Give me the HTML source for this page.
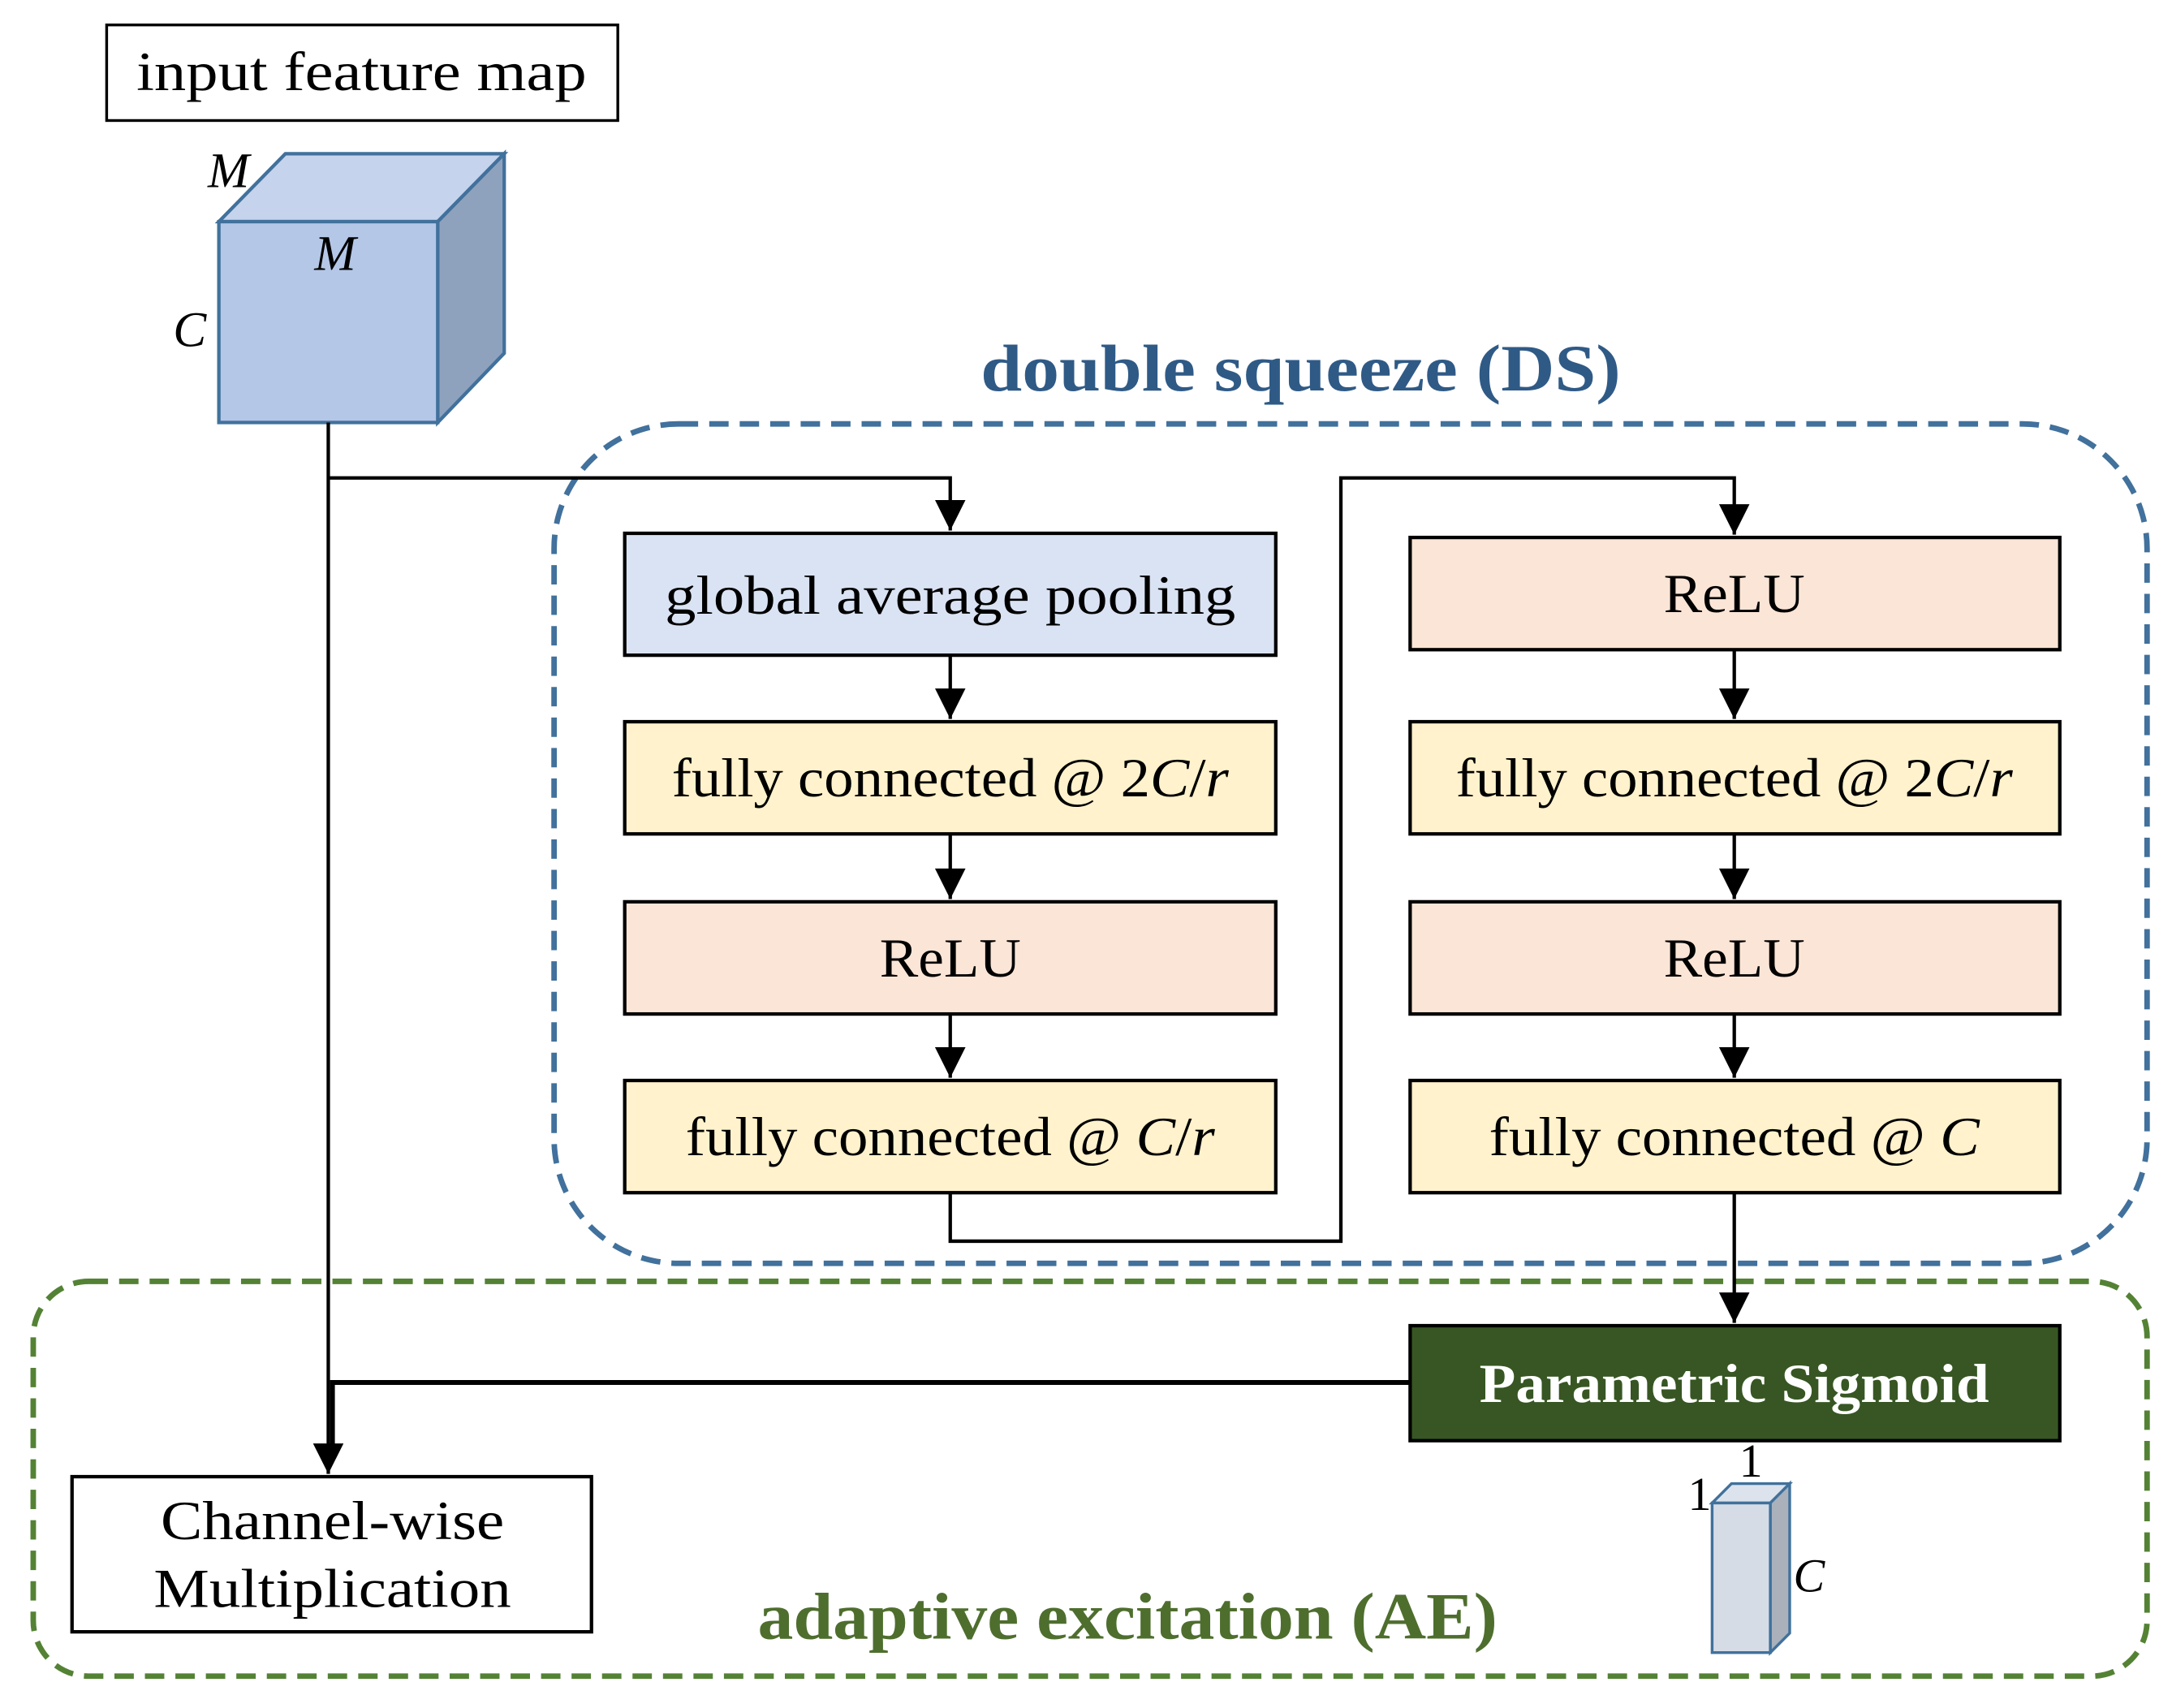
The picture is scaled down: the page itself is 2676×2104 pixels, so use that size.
<!DOCTYPE html>
<html><head><meta charset="utf-8"><style>
html,body{margin:0;padding:0;background:#fff;}
svg{display:block;}
text{font-family:"Liberation Serif",serif;}
</style></head><body>
<svg width="2676" height="2104" viewBox="0 0 1568 1233" preserveAspectRatio="none" xmlns="http://www.w3.org/2000/svg">
<defs>
<marker id="a" viewBox="0 0 10 10" refX="10" refY="5" markerWidth="24" markerHeight="22" markerUnits="userSpaceOnUse" orient="auto"><path d="M0,0 L10,5 L0,10 z" fill="#000"/></marker>
</defs>
<rect x="77" y="18" width="369" height="69" fill="#fff" stroke="#000" stroke-width="2"/>
<text x="261" y="65" font-size="40" text-anchor="middle" textLength="325" lengthAdjust="spacingAndGlyphs">input feature map</text>
<polygon points="158,160 206,111 364,111 316,160" fill="#c5d3ec" stroke="#41719c" stroke-width="2.5"/>
<polygon points="316,160 364,111 364,255 316,305" fill="#8fa2bd" stroke="#41719c" stroke-width="2.5"/>
<rect x="158" y="160" width="158" height="145" fill="#b4c7e7" stroke="#41719c" stroke-width="2.5"/>
<text x="165" y="135" font-size="36" font-style="italic" text-anchor="middle">M</text>
<text x="242" y="195" font-size="36" font-style="italic" text-anchor="middle">M</text>
<text x="137" y="250" font-size="36" font-style="italic" text-anchor="middle">C</text>
<text x="939" y="282" font-size="48" font-weight="bold" fill="#2f5a86" text-anchor="middle" textLength="462" lengthAdjust="spacingAndGlyphs">double squeeze (DS)</text>
<rect x="400" y="306" width="1150" height="606" rx="90" fill="none" stroke="#41719c" stroke-width="4" stroke-dasharray="14,8"/>
<rect x="24" y="925" width="1526" height="285" rx="40" fill="none" stroke="#548235" stroke-width="4" stroke-dasharray="14,8"/>
<text x="814" y="1183" font-size="48" font-weight="bold" fill="#4e6e2e" text-anchor="middle" textLength="534" lengthAdjust="spacingAndGlyphs">adaptive excitation (AE)</text>
<g stroke="#000" stroke-width="2.5" fill="none">
<line x1="237" y1="305" x2="237" y2="1064" marker-end="url(#a)"/>
<polyline points="237,345 686,345 686,383" marker-end="url(#a)"/>
<line x1="686" y1="473" x2="686" y2="519" marker-end="url(#a)"/>
<line x1="686" y1="602" x2="686" y2="649" marker-end="url(#a)"/>
<line x1="686" y1="732" x2="686" y2="778" marker-end="url(#a)"/>
<polyline points="686,861 686,896 968,896 968,345 1252,345 1252,386" marker-end="url(#a)"/>
<line x1="1252" y1="469" x2="1252" y2="519" marker-end="url(#a)"/>
<line x1="1252" y1="602" x2="1252" y2="649" marker-end="url(#a)"/>
<line x1="1252" y1="732" x2="1252" y2="778" marker-end="url(#a)"/>
<line x1="1252" y1="861" x2="1252" y2="955" marker-end="url(#a)"/>
<polyline points="1018,998 240,998 240,1050" stroke-width="3.5"/>
</g>
<g stroke="#000" stroke-width="2.5">
<rect x="451" y="385" width="470" height="88" fill="#dae3f3"/>
<rect x="451" y="521" width="470" height="81" fill="#fff2cc"/>
<rect x="451" y="651" width="470" height="81" fill="#fbe5d6"/>
<rect x="451" y="780" width="470" height="81" fill="#fff2cc"/>
<rect x="1018" y="388" width="469" height="81" fill="#fbe5d6"/>
<rect x="1018" y="521" width="469" height="81" fill="#fff2cc"/>
<rect x="1018" y="651" width="469" height="81" fill="#fbe5d6"/>
<rect x="1018" y="780" width="469" height="81" fill="#fff2cc"/>
<rect x="1018" y="957" width="469" height="83" fill="#375623"/>
<rect x="52" y="1066" width="375" height="112" fill="#fff"/>
</g>
<g font-size="40" text-anchor="middle">
<text x="686" y="443" textLength="412" lengthAdjust="spacingAndGlyphs">global average pooling</text>
<text x="686" y="575" textLength="402" lengthAdjust="spacingAndGlyphs">fully connected @ 2<tspan font-style="italic">C</tspan>/<tspan font-style="italic">r</tspan></text>
<text x="686" y="705" textLength="102" lengthAdjust="spacingAndGlyphs">ReLU</text>
<text x="686" y="834" textLength="382" lengthAdjust="spacingAndGlyphs">fully connected @ <tspan font-style="italic">C</tspan>/<tspan font-style="italic">r</tspan></text>
<text x="1252" y="442" textLength="102" lengthAdjust="spacingAndGlyphs">ReLU</text>
<text x="1252" y="575" textLength="402" lengthAdjust="spacingAndGlyphs">fully connected @ 2<tspan font-style="italic">C</tspan>/<tspan font-style="italic">r</tspan></text>
<text x="1252" y="705" textLength="102" lengthAdjust="spacingAndGlyphs">ReLU</text>
<text x="1252" y="834" textLength="354" lengthAdjust="spacingAndGlyphs">fully connected @ <tspan font-style="italic">C</tspan></text>
<text x="1252" y="1012" font-weight="bold" fill="#fff" textLength="368" lengthAdjust="spacingAndGlyphs">Parametric Sigmoid</text>
<text x="240" y="1111" textLength="248" lengthAdjust="spacingAndGlyphs">Channel-wise</text>
<text x="240" y="1160" textLength="258" lengthAdjust="spacingAndGlyphs">Multiplication</text>
</g>
<polygon points="1236,1085 1250,1071 1292,1071 1278,1085" fill="#dde3ec" stroke="#41719c" stroke-width="2"/>
<polygon points="1278,1085 1292,1071 1292,1179 1278,1193" fill="#aab1bb" stroke="#41719c" stroke-width="2"/>
<rect x="1236" y="1085" width="42" height="108" fill="#d5dce6" stroke="#41719c" stroke-width="2"/>
<text x="1227" y="1090" font-size="34" text-anchor="middle">1</text>
<text x="1264" y="1066" font-size="34" text-anchor="middle">1</text>
<text x="1306" y="1149" font-size="34" font-style="italic" text-anchor="middle">C</text>
</svg>
</body></html>
